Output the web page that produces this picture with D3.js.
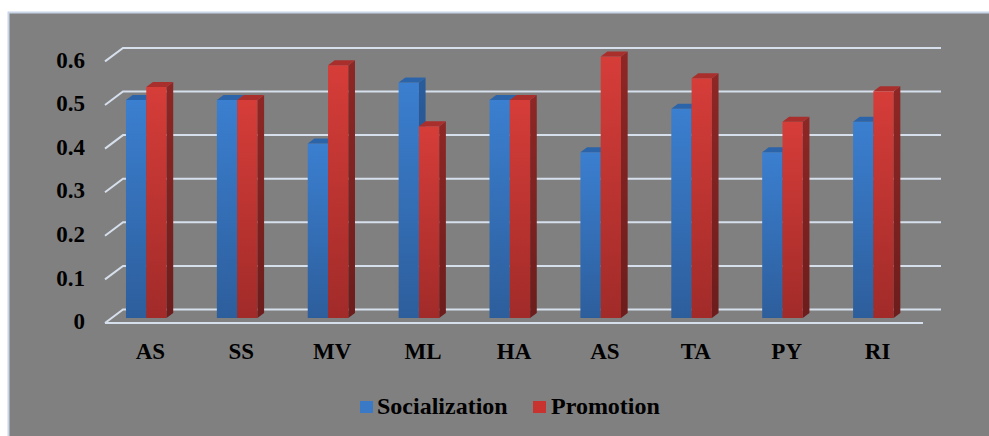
<!DOCTYPE html>
<html>
<head>
<meta charset="utf-8">
<script src="https://cdn.jsdelivr.net/npm/d3@7/dist/d3.min.js"></script>
<style>
  html, body { margin: 0; padding: 0; background: #ffffff; }
  svg { display: block; }
</style>
</head>
<body>
<div id="chart"></div>
<script>
// Data
const categories = ["AS", "SS", "MV", "ML", "HA", "AS", "TA", "PY", "RI"];
const seriesNames = ["Socialization", "Promotion"];
const socialization = [0.50, 0.50, 0.40, 0.54, 0.50, 0.38, 0.48, 0.38, 0.45];
const promotion     = [0.53, 0.50, 0.58, 0.44, 0.50, 0.60, 0.55, 0.45, 0.52];
const yTicks = [0, 0.1, 0.2, 0.3, 0.4, 0.5, 0.6];

const FONT = "'Liberation Serif', 'Times New Roman', serif";

const W = 989, H = 436;
const svg = d3.select("#chart").append("svg").attr("width", W).attr("height", H);

// Plot area frame
svg.append("rect")
  .attr("x", 8.5).attr("y", 12.5).attr("width", W).attr("height", H)
  .attr("fill", "#808080").attr("stroke", "#c9d6e8").attr("stroke-width", 2);

// 3D geometry: front floor edge, and the depth shift toward the back wall
const floorY = 323;
const depthX = 18, depthY = -13.5;   // full depth offset (front -> back wall)
const x = d3.scaleBand().domain(d3.range(categories.length)).range([105, 923]).paddingInner(0).paddingOuter(0);
const y = d3.scaleLinear().domain([0, 1]).range([floorY, floorY - 436]);

// point at value v, depth t (0 = front, 1 = back wall), horizontal position px on the front plane
const P = (px, v, t) => [px + depthX * t, y(v) + depthY * t];

const defs = svg.append("defs");
function grad(id, c0, c1) {
  const g = defs.append("linearGradient").attr("id", id).attr("x1", 0).attr("y1", 0).attr("x2", 0).attr("y2", 1);
  g.append("stop").attr("offset", "0%").attr("stop-color", c0);
  g.append("stop").attr("offset", "100%").attr("stop-color", c1);
}
grad("blueFront", "#3b7fd0", "#2d5e9c");
grad("blueSide",  "#2a5c9c", "#21497c");
grad("redFront",  "#d63d39", "#a12b29");
grad("redSide",   "#8e2725", "#6c1d1c");

const palette = [
  { front: "url(#blueFront)", side: "url(#blueSide)", top: "#2c64aa", legend: "#3a79c6" },
  { front: "url(#redFront)",  side: "url(#redSide)",  top: "#a92f2c", legend: "#c9332f" }
];

// Gridlines: left wall diagonal + back wall line
const grid = svg.append("g").attr("stroke", "#d6dfec").attr("stroke-width", 2).attr("fill", "none");
const x0 = x.range()[0], x1 = x.range()[1];
yTicks.forEach(v => {
  const a = P(x0, v, 0), b = P(x0, v, 1), c = P(x1, v, 1);
  grid.append("path").attr("d", d3.line()([a, b, c]));
});
// floor front edge
grid.append("line").attr("x1", x0).attr("x2", x1).attr("y1", floorY).attr("y2", floorY);

// Y tick labels
svg.append("g").selectAll("text").data(yTicks).join("text")
  .attr("x", 85).attr("y", d => y(d) + 1)
  .attr("text-anchor", "end").attr("dominant-baseline", "middle")
  .style("font-family", FONT).style("font-weight", "bold").style("font-size", "23px").style("fill", "#000")
  .text(d => d === 0 ? "0" : d3.format(".1f")(d));

// Bars (3D boxes)
const tFront = 0.37, tBack = 0.74;
const groupOffset = 14.3, barW = 20.3;
const bars = svg.append("g");
const series = [socialization, promotion];
categories.forEach((cat, i) => {
  series.forEach((vals, s) => {
    const v = vals[i];
    const left = x(i) + groupOffset + s * barW;
    const right = left + barW;
    const col = palette[s];
    const poly = pts => "M" + pts.map(p => p.join(",")).join("L") + "Z";
    // front face
    bars.append("path").attr("fill", col.front)
      .attr("d", poly([P(left, v, tFront), P(right, v, tFront), P(right, 0, tFront), P(left, 0, tFront)]));
    // right side
    bars.append("path").attr("fill", col.side)
      .attr("d", poly([P(right, v, tFront), P(right, v, tBack), P(right, 0, tBack), P(right, 0, tFront)]));
    // top
    bars.append("path").attr("fill", col.top)
      .attr("d", poly([P(left, v, tFront), P(right, v, tFront), P(right, v, tBack), P(left, v, tBack)]));
  });
});

// Category labels
svg.append("g").selectAll("text").data(categories).join("text")
  .attr("x", (d, i) => x(i) + x.bandwidth() / 2)
  .attr("y", 359)
  .attr("text-anchor", "middle")
  .style("font-family", FONT).style("font-weight", "bold").style("font-size", "23px").style("fill", "#000")
  .text(d => d);

// Legend
const legend = svg.append("g");
const legendItems = [
  { name: seriesNames[0], sx: 360, tx: 377, color: palette[0].legend },
  { name: seriesNames[1], sx: 533, tx: 551, color: palette[1].legend }
];
legendItems.forEach(it => {
  legend.append("rect").attr("x", it.sx).attr("y", 401).attr("width", 13).attr("height", 12).attr("fill", it.color);
  legend.append("text").attr("x", it.tx).attr("y", 414)
    .style("font-family", FONT).style("font-weight", "bold").style("font-size", "24px").style("fill", "#000")
    .text(it.name);
});
</script>
</body>
</html>
